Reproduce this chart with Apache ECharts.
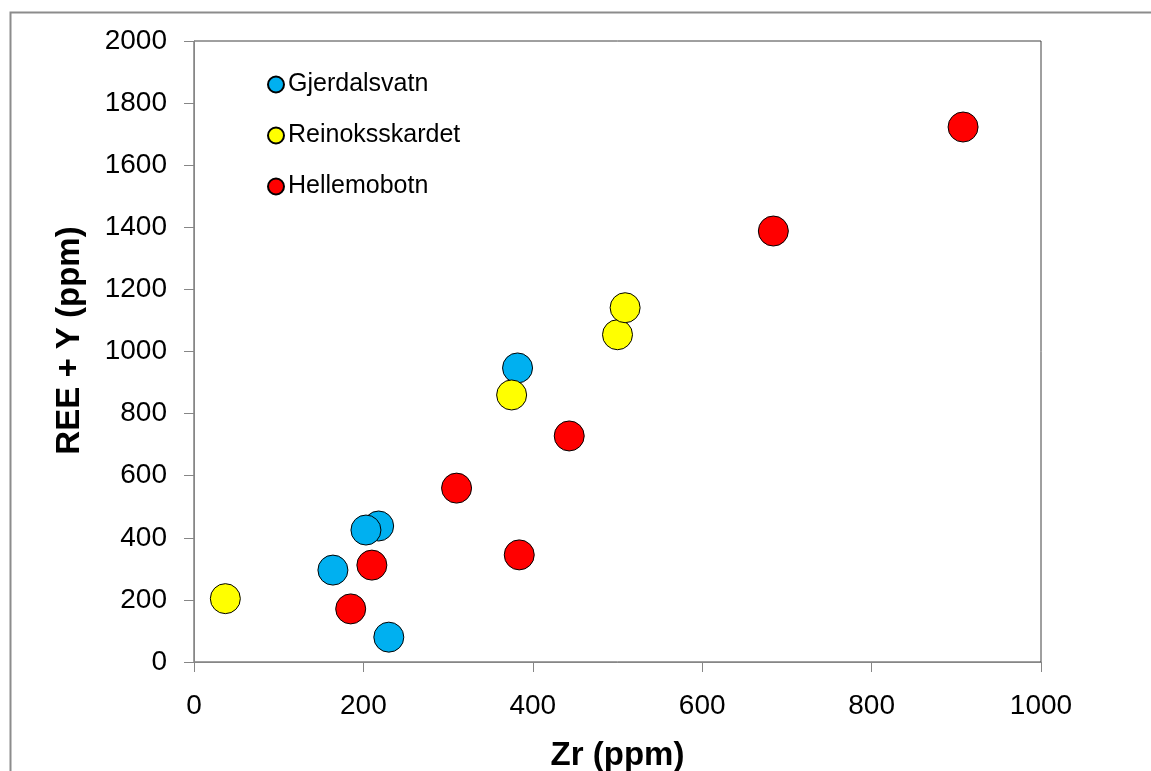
<!DOCTYPE html>
<html>
<head>
<meta charset="utf-8">
<script src="https://cdn.jsdelivr.net/npm/echarts@6/dist/echarts.min.js"></script>
<style>
html,body{margin:0;padding:0;background:#fff;}
#chart{width:1151px;height:771px;}
</style>
</head>
<body>
<div id="chart"></div>
<script>
var seriesNames = ['Gjerdalsvatn', 'Reinoksskardet', 'Hellemobotn'];
var seriesColors = ['#00B0F0', '#FFFF00', '#FF0000'];
var gjerdalsvatn = [[382, 947], [218, 438], [203, 425], [164, 296], [230, 80]];
var reinoksskardet = [[37, 204], [375, 860], [500, 1054], [509, 1141]];
var hellemobotn = [[908, 1723], [684, 1388], [443, 728], [310, 560], [384, 345], [210, 312], [185, 171]];
var xTicks = { min: 0, max: 1000, interval: 200 };
var yTicks = { min: 0, max: 2000, interval: 200 };
var xTitle = 'Zr (ppm)';
var yTitle = 'REE + Y (ppm)';

var dataSets = [gjerdalsvatn, reinoksskardet, hellemobotn];
var font = 'Liberation Sans, Arial, sans-serif';
var plain = function (v) { return String(v); };
var chart = echarts.init(document.getElementById('chart'));
chart.setOption({
  animation: false,
  backgroundColor: '#fff',
  graphic: [{
    type: 'rect', left: 8, top: 10, z: -1,
    shape: { width: 1160, height: 800 },
    style: { fill: 'none', stroke: '#8c8c8c', lineWidth: 2 }
  }],
  grid: {
    left: 194, top: 41, width: 847, height: 621,
    outerBoundsMode: 'none', containLabel: false,
    show: true, borderColor: '#404040', borderWidth: 1, backgroundColor: 'transparent'
  },
  legend: {
    orient: 'vertical', left: 262, top: 67,
    itemWidth: 16, itemHeight: 16, itemGap: 26,
    icon: 'circle',
    textStyle: { fontFamily: font, fontSize: 25, color: '#000', padding: [0, 0, 0, -1] },
    data: seriesNames
  },
  xAxis: {
    type: 'value', min: xTicks.min, max: xTicks.max, interval: xTicks.interval,
    name: xTitle, nameLocation: 'middle', nameGap: 77,
    nameTextStyle: { fontFamily: font, fontSize: 33, fontWeight: 'bold', color: '#000' },
    axisLine: { show: true, lineStyle: { color: '#868686', width: 1 } },
    axisTick: { show: true, length: 10, lineStyle: { color: '#868686' } },
    axisLabel: { margin: 30, fontFamily: font, fontSize: 28, color: '#000', formatter: plain },
    splitLine: { show: false }
  },
  yAxis: {
    type: 'value', min: yTicks.min, max: yTicks.max, interval: yTicks.interval,
    name: yTitle, nameLocation: 'middle', nameGap: 108,
    nameTextStyle: { fontFamily: font, fontSize: 33, fontWeight: 'bold', color: '#000', padding: [0, 0, 0, 22] },
    axisLine: { show: true, lineStyle: { color: '#868686', width: 1 } },
    axisTick: { show: true, length: 10, lineStyle: { color: '#868686' } },
    axisLabel: { margin: 27, fontFamily: font, fontSize: 28, color: '#000', formatter: plain },
    splitLine: { show: false }
  },
  series: seriesNames.map(function (n, i) {
    return {
      name: n, type: 'scatter', data: dataSets[i], symbol: 'circle', symbolSize: 30,
      itemStyle: { color: seriesColors[i], borderColor: '#000', borderWidth: 1, opacity: 1 }
    };
  })
});
</script>
</body>
</html>
